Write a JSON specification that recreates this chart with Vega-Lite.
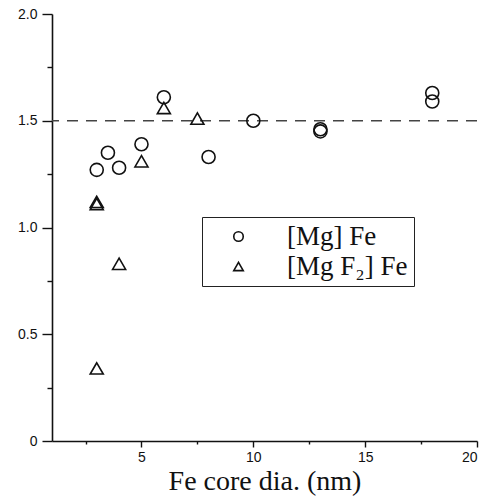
{
  "$schema": "https://vega.github.io/schema/vega-lite/v6.json",
  "width": 425,
  "height": 427,
  "autosize": {"type": "none"},
  "padding": {"left": 52, "top": 14, "right": 5, "bottom": 58},
  "background": "white",
  "config": {
    "view": {"stroke": null},
    "axis": {
      "domainColor": "#111",
      "domainWidth": 1.6,
      "tickColor": "#111",
      "tickWidth": 1.4,
      "grid": false,
      "labelFont": "Liberation Sans",
      "labelFontSize": 14,
      "labelColor": "#111",
      "titleFont": "Liberation Serif",
      "titleFontSize": 28,
      "titleFontWeight": "normal",
      "titleColor": "#111"
    },
    "legend": {
      "orient": "none",
      "legendX": 150,
      "legendY": 203,
      "padding": 6,
      "rowPadding": 2,
      "strokeColor": "#222",
      "fillColor": "white",
      "symbolSize": 90,
      "symbolStrokeWidth": 1.6,
      "symbolStrokeColor": "#111",
      "symbolOffset": 17,
      "labelOffset": 35,
      "labelFont": "Liberation Serif",
      "labelFontSize": 27,
      "labelColor": "#111",
      "labelLimit": 300
    }
  },
  "datasets": {
    "pts": [
      {"d": 3, "r": 1.27, "s": "[Mg] Fe"},
      {"d": 3.5, "r": 1.35, "s": "[Mg] Fe"},
      {"d": 4, "r": 1.28, "s": "[Mg] Fe"},
      {"d": 5, "r": 1.39, "s": "[Mg] Fe"},
      {"d": 6, "r": 1.61, "s": "[Mg] Fe"},
      {"d": 8, "r": 1.33, "s": "[Mg] Fe"},
      {"d": 10, "r": 1.5, "s": "[Mg] Fe"},
      {"d": 13, "r": 1.45, "s": "[Mg] Fe"},
      {"d": 13, "r": 1.46, "s": "[Mg] Fe"},
      {"d": 18, "r": 1.63, "s": "[Mg] Fe"},
      {"d": 18, "r": 1.59, "s": "[Mg] Fe"},
      {"d": 3, "r": 1.12, "s": "[Mg F₂] Fe"},
      {"d": 3, "r": 1.11, "s": "[Mg F₂] Fe"},
      {"d": 3, "r": 0.34, "s": "[Mg F₂] Fe"},
      {"d": 4, "r": 0.83, "s": "[Mg F₂] Fe"},
      {"d": 5, "r": 1.31, "s": "[Mg F₂] Fe"},
      {"d": 6, "r": 1.56, "s": "[Mg F₂] Fe"},
      {"d": 7.5, "r": 1.51, "s": "[Mg F₂] Fe"}
    ],
    "ref": [{"r": 1.5}]
  },
  "layer": [
    {
      "data": {"name": "ref"},
      "mark": {"type": "rule", "strokeDash": [11, 8], "color": "#444", "strokeWidth": 1.5},
      "encoding": {
        "y": {
          "field": "r", "type": "quantitative",
          "scale": {"domain": [0, 2], "nice": false, "zero": true},
          "axis": {
            "title": null,
            "values": [0, 0.25, 0.5, 0.75, 1, 1.25, 1.5, 1.75, 2],
            "labelExpr": "datum.value % 0.5 == 0 ? (datum.value == 0 ? '0' : format(datum.value, '.1f')) : ''",
            "tickSize": {"condition": {"test": "datum.value % 0.5 == 0", "value": 10}, "value": 5},
            "labelPadding": 5
          }
        }
      }
    },
    {
      "data": {"name": "pts"},
      "mark": {"type": "point", "filled": false, "strokeWidth": 1.6, "color": "#111", "size": 170, "opacity": 1},
      "encoding": {
        "x": {
          "field": "d", "type": "quantitative",
          "scale": {"domain": [1, 20], "nice": false, "zero": false},
          "axis": {
            "title": "Fe core dia. (nm)",
            "values": [2.5, 5, 7.5, 10, 12.5, 15, 17.5, 20],
            "labelExpr": "datum.value % 5 == 0 ? format(datum.value, 'd') : ''",
            "tickSize": {"condition": {"test": "datum.value % 5 == 0", "value": 6}, "value": 3},
            "labelPadding": 3,
            "titlePadding": 3
          }
        },
        "y": {
          "field": "r", "type": "quantitative",
          "scale": {"domain": [0, 2], "nice": false, "zero": true},
          "axis": {
            "title": null,
            "values": [0, 0.25, 0.5, 0.75, 1, 1.25, 1.5, 1.75, 2],
            "labelExpr": "datum.value % 0.5 == 0 ? (datum.value == 0 ? '0' : format(datum.value, '.1f')) : ''",
            "tickSize": {"condition": {"test": "datum.value % 0.5 == 0", "value": 10}, "value": 5},
            "labelPadding": 5
          }
        },
        "shape": {
          "field": "s", "type": "nominal", "title": null,
          "scale": {"domain": ["[Mg] Fe", "[Mg F₂] Fe"], "range": ["circle", "triangle-up"]}
        }
      }
    }
  ]
}
